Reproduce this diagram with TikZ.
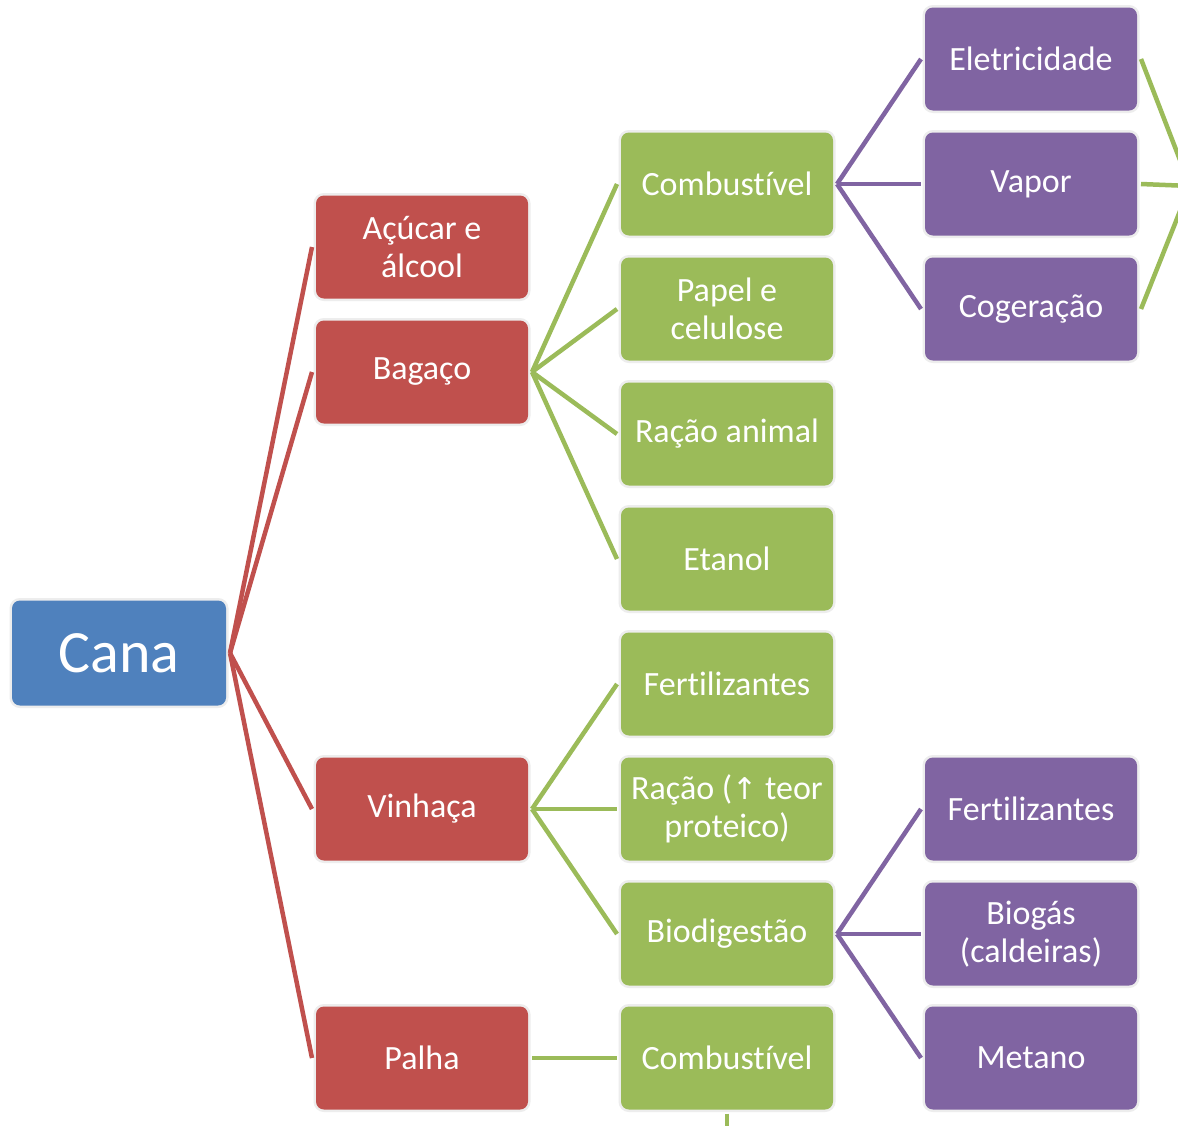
\documentclass[tikz,border=0pt]{standalone}
\usepackage{fontspec}
\setmainfont[Ligatures=NoCommon]{Carlito}
\newfontfamily\symfont{DejaVu Sans}
\definecolor{cblue}{HTML}{4F81BD}
\definecolor{cred}{HTML}{C0504D}
\definecolor{cgreen}{HTML}{9BBB59}
\definecolor{cpurple}{HTML}{8064A2}
\begin{document}
\begin{tikzpicture}[x=1pt,y=-1pt,
  box/.style={rounded corners=8pt, minimum width=212pt, minimum height=103pt,
    text=white, font=\fontsize{34}{38}\selectfont, align=center, inner sep=0pt,
    outer sep=4pt, preaction={draw=black!7, line width=5pt}},
  redbox/.style={box, fill=cred},
  greenbox/.style={box, fill=cgreen},
  purplebox/.style={box, fill=cpurple},
  conn/.style={line width=4.5pt},
  redline/.style={conn, draw=cred},
  greenline/.style={conn, draw=cgreen},
  purpleline/.style={conn, draw=cpurple}]
\useasboundingbox (0,0) rectangle (1178,1125);
\clip (0,0) rectangle (1178,1125);
\fill[white] (0,0) rectangle (1178,1125);

% root
\node[box, fill=cblue, minimum width=214pt, minimum height=105pt,
  font=\fontsize{60}{66}\selectfont] (cana) at (119,653) {Cana};

% level 1
\node[redbox] (acucar) at (422,247) {Açúcar e\\álcool};
\node[redbox] (bagaco) at (422,372) {Bagaço};
\node[redbox] (vinhaca) at (422,809) {Vinhaça};
\node[redbox] (palha) at (422,1058) {Palha};

% level 2
\node[greenbox] (comb1) at (727,184) {Combustível};
\node[greenbox] (papel) at (727,309) {Papel e\\celulose};
\node[greenbox] (racao) at (727,434) {Ração animal};
\node[greenbox] (etanol) at (727,559) {Etanol};
\node[greenbox] (fert1) at (727,684) {Fertilizantes};
\node[greenbox] (racaop) at (727,809) {Ração ({\symfont\fontsize{30}{36}\selectfont ↑} teor\\proteico)};
\node[greenbox] (biodig) at (727,934) {Biodigestão};
\node[greenbox] (comb2) at (727,1058) {Combustível};

% level 3
\node[purplebox] (eletr) at (1031,59) {Eletricidade};
\node[purplebox] (vapor) at (1031,184) {Vapor};
\node[purplebox] (coger) at (1031,309) {Cogeração};
\node[purplebox] (fert2) at (1031,809) {Fertilizantes};
\node[purplebox] (biogas) at (1031,934) {Biogás\\(caldeiras)};
\node[purplebox] (metano) at (1031,1058) {Metano};

% off-canvas coordinates
\coordinate (conv) at (1190,186);
\coordinate (bottom) at (727,1135);

% connectors
\foreach \t in {acucar,bagaco,vinhaca,palha}
  \draw[redline] (cana.east) -- (\t.west);
\foreach \t in {comb1,papel,racao,etanol}
  \draw[greenline] (bagaco.east) -- (\t.west);
\foreach \t in {fert1,racaop,biodig}
  \draw[greenline] (vinhaca.east) -- (\t.west);
\draw[greenline] (palha.east) -- (comb2.west);
\foreach \t in {eletr,vapor,coger}
  \draw[purpleline] (comb1.east) -- (\t.west);
\foreach \t in {fert2,biogas,metano}
  \draw[purpleline] (biodig.east) -- (\t.west);
\foreach \t in {eletr,vapor,coger}
  \draw[greenline] (\t.east) -- (conv);
\draw[greenline] (comb2.south) -- (bottom);
\end{tikzpicture}
\end{document}
